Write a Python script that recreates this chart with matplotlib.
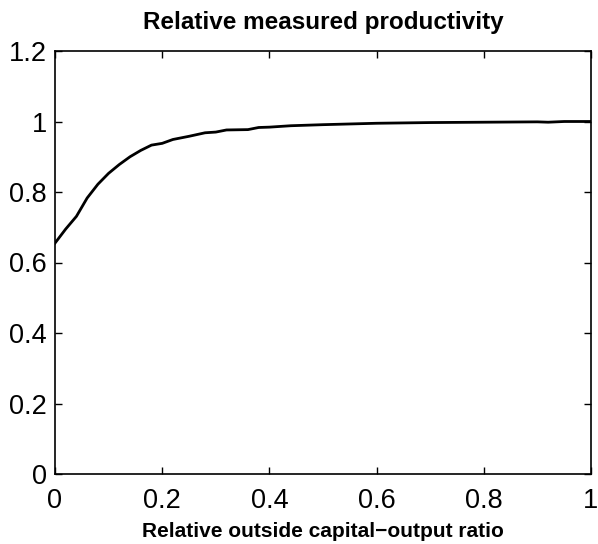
import matplotlib
matplotlib.use("Agg")
import matplotlib.pyplot as plt
from matplotlib.ticker import FixedLocator

plt.rcParams['font.family'] = ['Liberation Sans', 'DejaVu Sans']

ratio = [0.0, 0.02, 0.04, 0.06, 0.08, 0.10, 0.12, 0.14, 0.16, 0.18, 0.20,
         0.22, 0.25, 0.28, 0.30, 0.32, 0.36, 0.38, 0.40, 0.44, 0.50, 0.55,
         0.60, 0.70, 0.80, 0.90, 0.92, 0.95, 1.0]
productivity = [0.655, 0.695, 0.731, 0.783, 0.822, 0.853, 0.878, 0.900, 0.918,
                0.933, 0.938, 0.949, 0.958, 0.968, 0.970, 0.976, 0.977, 0.983,
                0.984, 0.988, 0.991, 0.993, 0.995, 0.997, 0.998, 0.999, 0.998,
                1.0, 1.0]

xticks = [0, 0.2, 0.4, 0.6, 0.8, 1]
yticks = [0, 0.2, 0.4, 0.6, 0.8, 1, 1.2]
xtick_labels = ['0', '0.2', '0.4', '0.6', '0.8', '1']
ytick_labels = ['0', '0.2', '0.4', '0.6', '0.8', '1', '1.2']

fig = plt.figure(figsize=(5.98, 5.44), dpi=100)
ax = fig.add_axes([55/598, 70/544, 536/598, 423/544])
ax.plot(ratio, productivity, color='black', linewidth=2)
ax.set_xlim(0, 1)
ax.set_ylim(0, 1.2)
ax.xaxis.set_major_locator(FixedLocator(xticks))
ax.yaxis.set_major_locator(FixedLocator(yticks))
ax.set_xticklabels(xtick_labels)
ax.set_yticklabels(ytick_labels)
ax.tick_params(direction='in', length=5, width=1, labelsize=19.5, top=True, right=True)
ax.tick_params(axis='y', pad=6)
ax.tick_params(axis='x', pad=10)
for s in ax.spines.values():
    s.set_linewidth(1.2)
ax.set_title('Relative measured productivity', fontsize=17.5, fontweight='bold', pad=16)
ax.set_xlabel('Relative outside capital\u2212output ratio', fontsize=15, fontweight='bold', labelpad=6)
fig.savefig('out.png', dpi=100)
